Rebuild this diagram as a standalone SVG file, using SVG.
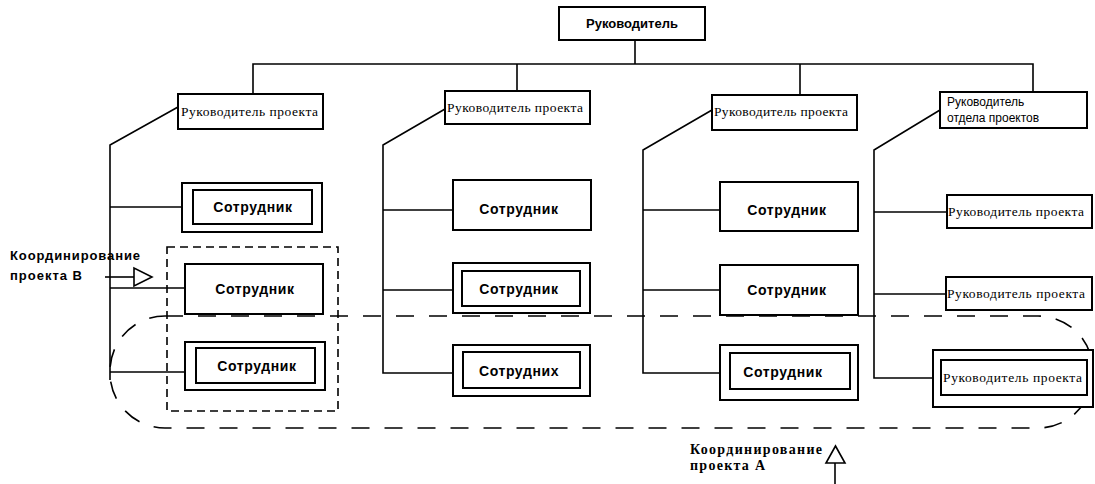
<svg xmlns="http://www.w3.org/2000/svg" width="1095" height="484" viewBox="0 0 1095 484">
<style>
.box{fill:#fff;stroke:#000;stroke-width:2}
.inner{fill:none;stroke:#000;stroke-width:2}
.ln{fill:none;stroke:#000;stroke-width:1.6}
.dash1{fill:none;stroke:#000;stroke-width:1.6;stroke-dasharray:18 15}
.dash2{fill:none;stroke:#000;stroke-width:1.6;stroke-dasharray:8 5}
.sot{font-family:"Liberation Sans",Arial,sans-serif;font-weight:bold;font-size:14px;letter-spacing:0.6px;text-anchor:middle;fill:#000}
.rp{font-family:"Liberation Serif","Times New Roman",serif;font-size:13.5px;fill:#000}
.top{font-family:"Liberation Sans",Arial,sans-serif;font-weight:bold;font-size:13px;text-anchor:middle;fill:#000}
.sm{font-family:"Liberation Sans",Arial,sans-serif;font-size:12px;fill:#000}
.lblB{font-family:"Liberation Sans",Arial,sans-serif;font-weight:bold;font-size:13px;fill:#000}
.lblA{font-family:"Liberation Serif","Times New Roman",serif;font-weight:bold;font-size:14px;fill:#000}
.arr{fill:#fff;stroke:#000;stroke-width:1.6}
</style>
<rect x="0" y="0" width="1095" height="484" fill="#fff"/>

<g id="coordination-areas">
<rect class="dash1" x="110" y="316" width="983" height="112" rx="55" ry="55"/>
<rect class="dash2" x="167" y="247" width="171" height="164"/>
</g>

<g id="connectors">
<polyline class="ln" points="635,40 635,64"/>
<polyline class="ln" points="253,94 253,64 1033,64 1033,92"/>
<polyline class="ln" points="517,64 517,91"/>
<polyline class="ln" points="800,64 800,95"/>
<polyline class="ln" points="178,107 110,145 110,380"/>
<polyline class="ln" points="110,207 182,207"/>
<polyline class="ln" points="110,288 185,288"/>
<polyline class="ln" points="110,372 185,372"/>
<polyline class="ln" points="445,109 383,145 383,373 453,373"/>
<polyline class="ln" points="383,210 453,210"/>
<polyline class="ln" points="383,290 453,290"/>
<polyline class="ln" points="712,110 643,150 643,373 720,373"/>
<polyline class="ln" points="643,210 720,210"/>
<polyline class="ln" points="643,290 720,290"/>
<polyline class="ln" points="940,110 874,150 874,378 941,378"/>
<polyline class="ln" points="874,212 947,212"/>
<polyline class="ln" points="874,294 946,294"/>
</g>

<g id="n-head">
<rect class="box" x="559" y="7" width="146" height="33"/>
<text class="top" x="632" y="28">Руководитель</text>
</g>

<g id="n-pm1">
<rect class="box" x="178" y="94" width="145" height="35"/>
<text class="rp" x="181" y="116" textLength="137">Руководитель проекта</text>
</g>
<g id="n-pm2">
<rect class="box" x="445" y="91" width="145" height="33"/>
<text class="rp" x="447" y="112" textLength="136">Руководитель проекта</text>
</g>
<g id="n-pm3">
<rect class="box" x="712" y="95" width="145" height="35"/>
<text class="rp" x="714" y="116" textLength="134">Руководитель проекта</text>
</g>
<g id="n-dept">
<rect class="box" x="940" y="92" width="147" height="36"/>
<text class="sm" x="947" y="106">Руководитель</text>
<text class="sm" x="947" y="122">отдела проектов</text>
</g>

<g id="n-c1a">
<rect class="box" x="182" y="183" width="140" height="49"/>
<rect class="inner" x="193" y="190" width="119" height="34"/>
<text class="sot" x="253" y="212">Сотрудник</text>
</g>
<g id="n-c1b">
<rect class="box" x="185" y="264" width="138" height="50"/>
<text class="sot" x="255" y="294">Сотрудник</text>
</g>
<g id="n-c1c">
<rect class="box" x="185" y="342" width="140" height="48"/>
<rect class="inner" x="196" y="348" width="119" height="35"/>
<text class="sot" x="257" y="371">Сотрудник</text>
</g>

<g id="n-c2a">
<rect class="box" x="453" y="180" width="138" height="50"/>
<text class="sot" x="519" y="214">Сотрудник</text>
</g>
<g id="n-c2b">
<rect class="box" x="453" y="263" width="137" height="50"/>
<rect class="inner" x="462" y="271" width="118" height="35"/>
<text class="sot" x="519" y="294">Сотрудник</text>
</g>
<g id="n-c2c">
<rect class="box" x="453" y="345" width="137" height="51"/>
<rect class="inner" x="463" y="352" width="117" height="36"/>
<text class="sot" x="519" y="376">Сотрудних</text>
</g>

<g id="n-c3a">
<rect class="box" x="720" y="182" width="138" height="49"/>
<text class="sot" x="787" y="215">Сотрудник</text>
</g>
<g id="n-c3b">
<rect class="box" x="720" y="265" width="138" height="50"/>
<text class="sot" x="787" y="295">Сотрудник</text>
</g>
<g id="n-c3c">
<rect class="box" x="720" y="345" width="138" height="55"/>
<rect class="inner" x="730" y="353" width="120" height="36"/>
<text class="sot" x="783" y="377">Сотрудник</text>
</g>

<g id="n-c4a">
<rect class="box" x="947" y="195" width="145" height="33"/>
<text class="rp" x="948" y="216" textLength="136">Руководитель проекта</text>
</g>
<g id="n-c4b">
<rect class="box" x="946" y="277" width="146" height="33"/>
<text class="rp" x="947" y="298" textLength="138">Руководитель проекта</text>
</g>
<g id="n-c4c">
<rect class="box" x="933" y="350" width="160" height="57"/>
<rect class="inner" x="941" y="360" width="146" height="35"/>
<text class="rp" x="943" y="382" textLength="139">Руководитель проекта</text>
</g>

<g id="label-B">
<text class="lblB" x="10" y="260" textLength="130">Координирование</text>
<text class="lblB" x="10" y="280" textLength="72">проекта В</text>
<line class="ln" x1="105" y1="277" x2="134" y2="277"/>
<polygon class="arr" points="134,268 134,286 152,277"/>
</g>

<g id="label-A">
<text class="lblA" x="690" y="454" textLength="132">Координирование</text>
<text class="lblA" x="690" y="470" textLength="75">проекта А</text>
<line class="ln" x1="835" y1="484" x2="835" y2="463"/>
<polygon class="arr" points="826,463 845,463 835.5,446"/>
</g>
</svg>
